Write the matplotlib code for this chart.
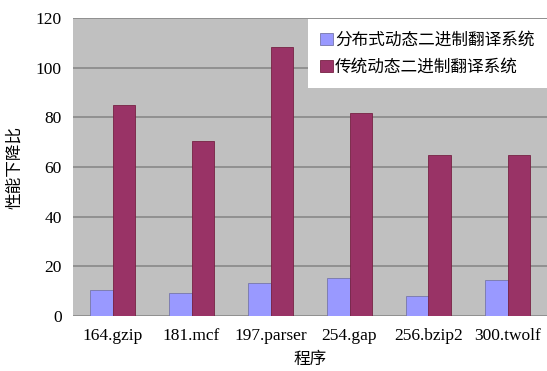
import matplotlib
matplotlib.use("Agg")
import matplotlib.pyplot as plt
import numpy as np

categories = ["164.gzip", "181.mcf", "197.parser", "254.gap", "256.bzip2", "300.twolf"]
series_names = ["分布式动态二进制翻译系统", "传统动态二进制翻译系统"]
distributed = [10.4, 9.4, 13.4, 15.4, 8.0, 14.5]
traditional = [85.0, 70.6, 108.2, 81.6, 64.9, 65.0]
yticks = [0, 20, 40, 60, 80, 100, 120]

serif = ["Liberation Serif", "DejaVu Serif"]
cjk = ["Noto Sans CJK SC", "DejaVu Sans"]

fig = plt.figure(figsize=(5.47, 3.71), dpi=100)
ax = fig.add_axes([73/547, 1-316/371, (547-73)/547, (316-18)/371])
ax.set_facecolor("#C0C0C0")

x = np.arange(len(categories))
w = 0.29
ax.bar(x - w/2, distributed, w, color="#9999FF", edgecolor="#7777AA", linewidth=0.6, label=series_names[0], zorder=3)
ax.bar(x + w/2, traditional, w, color="#993366", edgecolor="#772244", linewidth=0.6, label=series_names[1], zorder=3)

ax.set_xlim(-0.5, len(categories) - 0.5)
ax.set_ylim(0, 120)
ax.set_yticks(yticks)
ax.set_yticklabels([str(v) for v in yticks], fontfamily=serif, fontsize=12.5)
ax.set_xticks(x)
ax.set_xticklabels(categories, fontfamily=serif, fontsize=12.5)
ax.tick_params(axis="y", length=0, pad=8)
ax.tick_params(axis="x", length=0, pad=9)
ax.yaxis.grid(True, color="#888888", linewidth=1.2, zorder=1)
for s in ax.spines.values():
    s.set_visible(False)

ax.set_ylabel("性能下降比", fontfamily=cjk, fontsize=12, labelpad=9)
ax.set_xlabel("程序", fontfamily=cjk, fontsize=12, labelpad=5)

leg = ax.legend(loc="upper right", bbox_to_anchor=(1.0, 0.995), prop={"family": cjk, "size": 12},
                frameon=True, fancybox=False, framealpha=1, edgecolor="white",
                handlelength=0.75, handleheight=0.75, handletextpad=0.15, borderpad=0.75,
                labelspacing=0.6, borderaxespad=0)
leg.get_frame().set_facecolor("white")
leg.get_frame().set_linewidth(0)

fig.savefig("out.png", dpi=100)
